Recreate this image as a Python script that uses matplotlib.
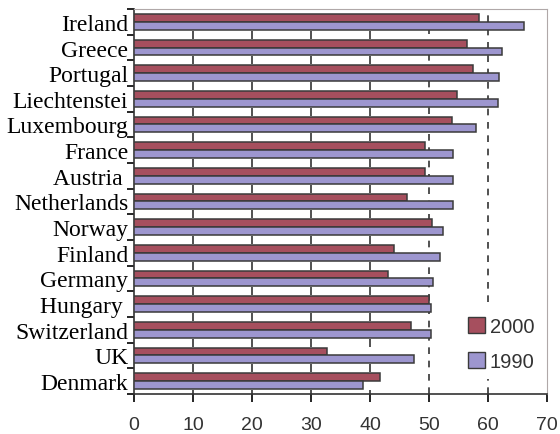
import numpy as np
import matplotlib.pyplot as plt
from matplotlib.patches import Patch

countries = ['Ireland', 'Greece', 'Portugal', 'Liechtenstei', 'Luxembourg', 'France',
             'Austria ', 'Netherlands', 'Norway', 'Finland', 'Germany', 'Hungary ',
             'Switzerland', 'UK', 'Denmark']
v2000 = [58.5, 56.4, 57.4, 54.7, 53.9, 49.4, 49.4, 46.2, 50.5, 44.1, 43.0, 50.0, 47.0, 32.7, 41.7]
v1990 = [66.1, 62.4, 61.9, 61.6, 58.0, 54.1, 54.1, 54.0, 52.3, 51.8, 50.7, 50.4, 50.4, 47.5, 38.8]
xticks = [0, 10, 20, 30, 40, 50, 60, 70]

red = '#a64f5e'
purple = '#9d96cf'
edge = '#3a3a3a'

plt.rcParams['font.family'] = ['Liberation Serif', 'DejaVu Serif']

fig = plt.figure(figsize=(5.6, 4.35), dpi=100)
ax = fig.add_axes([0.239, 0.092, 0.738, 0.885])

n = len(countries)
y = np.arange(n)
h = 0.3
ax.barh(y - h / 2, v2000, height=h, color=red, edgecolor=edge, linewidth=1.1, zorder=3)
ax.barh(y + h / 2, v1990, height=h, color=purple, edgecolor=edge, linewidth=1.1, zorder=3)

ax.set_ylim(n - 0.5, -0.5)
ax.set_xlim(0, 70)

# dashed reference lines (60 line broken behind the legend)
ax.axvline(50, color='#333333', linestyle=(0, (4, 4)), linewidth=1.2, zorder=1)
ax.axvline(60, ymin=0.24, ymax=1, color='#333333', linestyle=(0, (4, 4)), linewidth=1.2, zorder=1)
ax.axvline(60, ymin=0, ymax=0.04, color='#333333', linestyle=(0, (4, 4)), linewidth=1.2, zorder=1)

# small tick marks at category boundaries inside the plot
bounds = np.arange(n + 1) - 0.5
for xv in xticks[1:5]:
    ax.plot([xv] * (len(bounds) - 1), bounds[1:], linestyle='none', marker='|', markersize=6,
            color='#333333', markeredgewidth=1.2, zorder=2)

ax.set_yticks(bounds)
ax.set_yticklabels([])
ax.set_yticks(y, minor=True)
ax.set_yticklabels(countries, minor=True, fontsize=17)
ax.tick_params(axis='y', which='major', length=5, width=1.2, direction='out')
ax.tick_params(axis='y', which='minor', length=0, pad=4)

ax.set_xticks(xticks)
ax.set_xticklabels([str(t) for t in xticks], fontsize=14, family='Liberation Sans', color='#333333')
ax.tick_params(axis='x', length=6, width=1.2, direction='out', pad=10)

ax.spines['left'].set_color('#333333')
ax.spines['bottom'].set_color('#333333')
ax.spines['left'].set_linewidth(1.2)
ax.spines['bottom'].set_linewidth(1.2)
ax.spines['top'].set_color('#b0a8a8')
ax.spines['right'].set_color('#b0a8a8')

handles = [Patch(facecolor=red, edgecolor=edge, label='2000'),
           Patch(facecolor=purple, edgecolor=edge, label='1990')]
leg = ax.legend(handles=handles, loc='upper left', bbox_to_anchor=(0.808, 0.2), frameon=False,
                prop={'family': 'Liberation Sans', 'size': 14.5}, borderpad=0, borderaxespad=0,
                handlelength=0.85, handleheight=0.85, handletextpad=0.25, labelspacing=0.8)
for t in leg.get_texts():
    t.set_color('#333333')

fig.savefig('out.png', dpi=100)
